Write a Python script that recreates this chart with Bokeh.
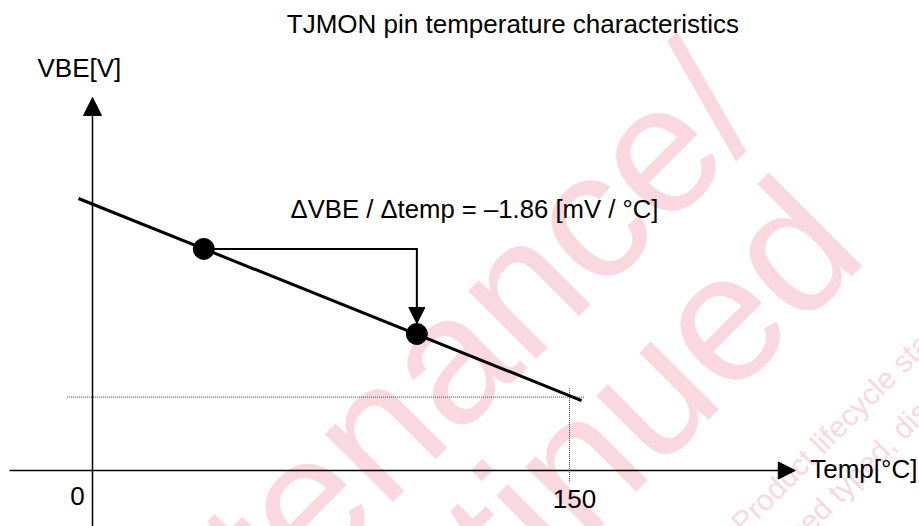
from bokeh.plotting import figure
from bokeh.models import Range1d, Arrow, NormalHead, Label
from bokeh.embed import file_html
from bokeh.resources import INLINE

# ---------------- data (schematic) ----------------
line_temp = [-4.4, 153.8]          # °C, ends of the VBE line
line_vbe = [0.3965, 0.1020]        # V
point_temp = [35.0, 102.0]         # the two marked points
point_vbe = [0.323, 0.199]
guide_temp = 150.0                 # dotted guide at Tj = 150 °C
guide_vbe = 0.107
x_ticks = [0, 150]
x_tick_labels = ["0", "150"]

title_text = "TJMON pin temperature characteristics"
y_label = "VBE[V]"
x_label = "Temp[°C]"
slope_text = "ΔVBE / Δtemp = –1.86 [mV / °C]"
watermark_big = ["maintenance/", "discontinued"]
watermark_small = ["Product lifecycle status", "discontinued typed, discontinued"]

# ---------------- styles ----------------
FONT = "Liberation Sans"
FS = "26px"
PINK = "#F9D8E0"
DY = 0.0142   # baseline correction for 26px labels

p = figure(width=919, height=526,
           x_range=Range1d(-28.931, 260.063), y_range=Range1d(-0.08163, 0.68513),
           output_backend="svg", toolbar_location=None,
           x_axis_location=None, y_axis_location=None, min_border=0)
p.grid.visible = False
p.outline_line_color = None
p.background_fill_color = "white"
p.border_fill_color = "white"

# ---------------- watermark (under everything) ----------------
for txt, (wx, wy) in zip(watermark_big, [(199.2, 0.5693), (230.7, 0.3758)]):
    p.add_layout(Label(x=wx, y=wy, text=txt, angle=45, angle_units="deg",
                       text_font=FONT, text_font_size="182px", text_color=PINK,
                       text_align="right", text_baseline="alphabetic", level="underlay"))
for txt, (wx, wy) in zip(watermark_small, [(202.5, -0.0830), (193.5, -0.2215)]):
    p.add_layout(Label(x=wx, y=wy, text=txt, angle=45, angle_units="deg",
                       text_font=FONT, text_font_size="30px", text_color=PINK,
                       text_align="left", text_baseline="alphabetic", level="underlay"))

# ---------------- dotted guides ----------------
p.line([guide_temp - 158.0, guide_temp + 4.7], [guide_vbe, guide_vbe],
       line_color="#444444", line_width=1, line_dash="1 1")
p.line([guide_temp, guide_temp], [guide_vbe + 0.0135, -0.0172],
       line_color="#444444", line_width=1, line_dash="1 1")

# ---------------- axes as arrows ----------------
p.add_layout(Arrow(x_start=-26.1, y_start=0, x_end=221.0, y_end=0,
                   line_color="black", line_width=1.5,
                   end=NormalHead(size=17, fill_color="black", line_color="black", line_width=1)))
p.add_layout(Arrow(x_start=0, y_start=-0.09, x_end=0, y_end=0.5437,
                   line_color="black", line_width=1.5,
                   end=NormalHead(size=18, fill_color="black", line_color="black", line_width=1)))

# ---------------- VBE line and points ----------------
p.line(line_temp, line_vbe, line_color="black", line_width=3)

# slope annotation arrow: from point 1 across, then down to point 2
p.line([point_temp[0], point_temp[1]], [point_vbe[0], point_vbe[0]],
       line_color="black", line_width=2, line_cap="square")
p.add_layout(Arrow(x_start=point_temp[1], y_start=point_vbe[0],
                   x_end=point_temp[1], y_end=point_vbe[1] + 10.5 / 686,
                   line_color="black", line_width=2,
                   end=NormalHead(size=16, fill_color="black", line_color="black", line_width=1)))

p.scatter(point_temp, point_vbe, size=21, color="black")

# ---------------- texts ----------------
def lab(x, y, text, align="left", x_offset=0, size=FS):
    p.add_layout(Label(x=x, y=y + DY, text=text, x_offset=x_offset,
                       text_font=FONT, text_font_size=size, text_color="black",
                       text_align=align, text_baseline="alphabetic"))

lab(132.2, 0.637, title_text, "center")
lab(-17.3, 0.5722, y_label)
lab(62.26, 0.3669, slope_text, "left", size="25.7px")
lab(259.4, -0.0121, x_label, "right")
for tv, tl, off, ty in zip(x_ticks, x_tick_labels, [-15, 5], [-0.051, -0.0559]):
    lab(tv, ty, tl, "center", off)

open("out.html", "w").write(file_html(p, INLINE))
